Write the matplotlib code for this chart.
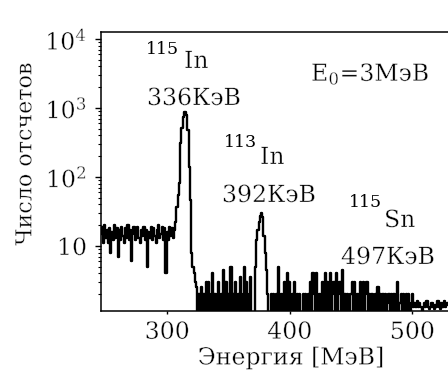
import numpy as np
import matplotlib as mpl
mpl.use('Agg')
import matplotlib.pyplot as plt
import matplotlib.patheffects as pe
from matplotlib.ticker import FixedLocator, FixedFormatter, LogLocator, NullFormatter

mpl.rcParams['font.family'] = ['DejaVu Serif']
mpl.rcParams['mathtext.fontset'] = 'dejavuserif'

# counts per 1 MeV channel, starting at 246 MeV
e_start = 246
background = [15, 19, 11, 20, 13, 17, 11, 18, 8, 16,
              12, 20, 13, 18, 7, 17, 12, 19, 14, 11,
              18, 13, 20, 12, 17, 6, 15, 19, 12, 16,
              19, 13, 11, 17, 14, 19, 12, 17, 5, 16,
              13, 19, 12, 18, 14, 11, 17, 20, 13, 15,
              19, 12, 18, 4, 16, 12, 19, 14, 18, 13,
              17]
peak_in115 = [22, 37, 55, 82, 310, 520, 740, 870, 880, 800,
              480, 140, 46, 8, 5, 4, 3, 2.5]
low_mid = [1, 2, 1, 2.5, 1, 2, 1, 3, 1, 3,
           1, 2, 4, 1, 2, 1, 1, 3, 1, 2,
           1, 4.5, 1, 3, 1, 2, 1, 5, 1, 2,
           1, 3, 1, 2, 1, 3.5, 1, 2, 5, 1,
           3, 1, 2, 3.5, 1, 1, 1]
peak_in113 = [5, 12, 17, 22, 27, 30, 26, 14, 8, 4.5, 2, 1, 1]
low_tail = [2, 1, 2, 1, 2, 1, 5, 1, 2, 1,
            2, 3, 1, 4, 1, 3, 1, 2, 1, 3,
            1, 2, 1, 2, 1, 1, 2, 1, 2, 1,
            2, 1, 3, 1, 4, 2, 1, 4, 1, 2,
            1, 2, 3, 1, 4, 1, 3, 1, 4, 1,
            2, 3, 1, 4, 1, 2, 3, 1, 4.5, 1,
            2, 1, 2, 1, 1, 2, 3, 1, 3, 1,
            2, 1, 2, 3, 1, 3, 1, 2, 3, 1,
            2, 1, 2, 1, 1.5, 2, 1, 2.5, 1, 2,
            1, 2, 1, 2, 1, 1.5, 2, 1, 2, 1,
            2, 1, 1.5, 3, 1, 1.5, 2, 1, 2, 1,
            2, 1, 2, 1, 1.5, 2, 1.3, 1.5, 1.3, 1.6,
            1.3, 1.5, 1.3, 1, 1.3, 1.5, 1.3, 1.6, 1.3, 1.2,
            1.3, 1.5, 1.3, 1.2, 1.4, 1.3, 1.6, 1.3, 1.2, 1.5,
            1.3, 1.6, 1.3, 1.4, 1.5]

counts = np.array(background + peak_in115 + low_mid + peak_in113 + low_tail, dtype=float)
energy = e_start + np.arange(len(counts))

x_ticks = [300, 400, 500]
y_ticks = [10, 100, 1000, 10000]
y_ticklabels = ['10', r'$10^{2}$', r'$10^{3}$', r'$10^{4}$']

# thin the glyphs a little, the original text is drawn with light strokes
thin = [pe.Stroke(linewidth=0.3, foreground='white')]

W, H = 448, 372
fig = plt.figure(figsize=(W / 100, H / 100), dpi=100)
ax = fig.add_axes([101 / W, 61 / H, 380 / W, 279 / H])

ax.plot(energy, counts, color='black', lw=1.7, drawstyle='steps-mid')
ax.set_yscale('log')
ax.set_xlim(246, 556)
ax.set_ylim(1.14, 12600)

ax.xaxis.set_major_locator(FixedLocator(x_ticks))
ax.yaxis.set_major_locator(FixedLocator(y_ticks))
ax.yaxis.set_major_formatter(FixedFormatter(y_ticklabels))
ax.yaxis.set_minor_locator(LogLocator(base=10, subs=np.arange(2, 10)))
ax.yaxis.set_minor_formatter(NullFormatter())

ax.tick_params(axis='y', which='major', direction='out', length=4, width=1, pad=6, labelsize=17)
ax.tick_params(axis='y', which='minor', direction='out', length=2.5, width=0.8)
ax.tick_params(axis='x', which='major', direction='out', length=2, width=1, pad=5, labelsize=17)
for s in ax.spines.values():
    s.set_linewidth(1.1)

xl = ax.set_xlabel('Энергия [МэВ]', fontsize=17, labelpad=2)
yl = ax.set_ylabel('Число отсчетов', fontsize=16)
ax.yaxis.set_label_coords(-0.17, 0.563)
xl.set_path_effects(thin)
yl.set_path_effects(thin)
for lbl in ax.get_xticklabels() + ax.get_yticklabels():
    lbl.set_path_effects(thin)

def ftext(x, y, s, size=17, effects=thin):
    # x, y in picture pixels, top-left of the text
    fig.text(x / W, 1 - y / H, s, fontsize=size, ha='left', va='top',
             path_effects=effects)

ftext(146, 41, '115', size=12.5, effects=[])
ftext(184, 50, 'In')
ftext(147, 87, '336КэВ')
ftext(311, 61, r'E$_{0}$=3МэВ')
ftext(224, 134, '113', size=12.5, effects=[])
ftext(260, 146, 'In')
ftext(222, 184, '392КэВ')
ftext(349, 194, '115', size=12.5, effects=[])
ftext(384, 209, 'Sn')
ftext(341, 246, '497КэВ')

fig.savefig('out.png', dpi=100)
